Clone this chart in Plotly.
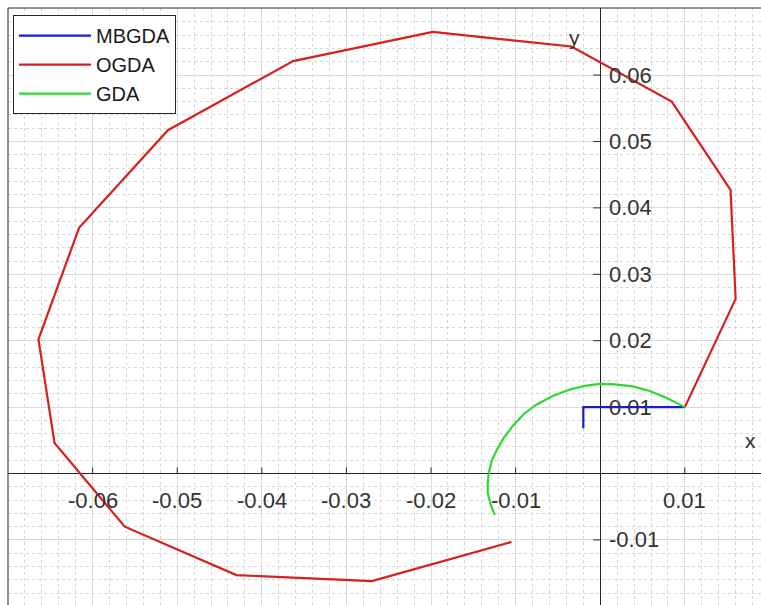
import plotly.graph_objects as go

# ---- data ----
mbgda_x = [0.0100, -0.0020, -0.0020]
mbgda_y = [0.0100, 0.0100, 0.0068]

ogda_x = [0.0100, 0.0160, 0.0154, 0.00845, -0.0034, -0.0198, -0.0363, -0.0511,
          -0.0616, -0.0664, -0.0645, -0.0562, -0.0430, -0.0270, -0.0105]
ogda_y = [0.0100, 0.0263, 0.0427, 0.0560, 0.0643, 0.0665, 0.0621, 0.0517,
          0.0370, 0.0202, 0.0046, -0.0080, -0.0153, -0.0162, -0.0103]

gda_x = [0.0100, 0.00786, 0.00585, 0.00384, 0.00171, -0.00006, -0.00183, -0.00361,
         -0.00561, -0.00751, -0.00904, -0.01034, -0.01141, -0.01223, -0.01283,
         -0.01318, -0.01330, -0.01330, -0.01294, -0.01247]
gda_y = [0.0100, 0.01138, 0.01243, 0.01311, 0.01341, 0.01349, 0.01319, 0.01266,
         0.01168, 0.01040, 0.00897, 0.00717, 0.00536, 0.00355, 0.00190,
         0.00009, -0.00142, -0.00292, -0.00473, -0.00623]

x_ticks = [-0.06, -0.05, -0.04, -0.03, -0.02, -0.01, 0.01]
x_tick_labels = ["-0.06", "-0.05", "-0.04", "-0.03", "-0.02", "-0.01", "0.01"]
y_ticks = [0.06, 0.05, 0.04, 0.03, 0.02, 0.01, -0.01]
y_tick_labels = ["0.06", "0.05", "0.04", "0.03", "0.02", "0.01", "-0.01"]

FONT = "Liberation Sans, Arial, sans-serif"
AX = "#262626"
TXT = "#333333"

fig = go.Figure()
fig.add_trace(go.Scatter(x=mbgda_x, y=mbgda_y, mode="lines", name="MBGDA",
                         line=dict(color="#1c1cc8", width=2.2)))
fig.add_trace(go.Scatter(x=ogda_x, y=ogda_y, mode="lines", name="OGDA",
                         line=dict(color="#d81e1e", width=2.2)))
fig.add_trace(go.Scatter(x=gda_x, y=gda_y, mode="lines", name="GDA",
                         line=dict(color="#2ed82e", width=2.2)))

shapes = []
for tv in x_ticks:
    shapes.append(dict(type="line", xref="x", yref="y", x0=tv, x1=tv,
                       ysizemode="pixel", yanchor=0, y0=0, y1=6,
                       line=dict(color=AX, width=1)))
for tv in y_ticks:
    shapes.append(dict(type="line", xref="x", yref="y", y0=tv, y1=tv,
                       xsizemode="pixel", xanchor=0, x0=-7, x1=0,
                       line=dict(color=AX, width=1)))
# frame (left and top edges)
shapes.append(dict(type="line", xref="paper", yref="paper", x0=0, x1=0, y0=0, y1=1,
                   line=dict(color=AX, width=1)))
shapes.append(dict(type="line", xref="paper", yref="paper", x0=0, x1=1, y0=1, y1=1,
                   line=dict(color=AX, width=1)))

annotations = []
for tv, tl in zip(x_ticks, x_tick_labels):
    annotations.append(dict(x=tv, y=0, xref="x", yref="y", text=tl, showarrow=False,
                            xanchor="center", yanchor="middle", yshift=-27,
                            font=dict(family=FONT, size=22, color=TXT)))
for tv, tl in zip(y_ticks, y_tick_labels):
    annotations.append(dict(x=0, y=tv, xref="x", yref="y", text=tl, showarrow=False,
                            xanchor="left", yanchor="middle", xshift=7,
                            font=dict(family=FONT, size=22, color=TXT)))
annotations.append(dict(x=0.0177, y=0.0049, xref="x", yref="y", text="x", showarrow=False,
                        xanchor="center", yanchor="middle",
                        font=dict(family=FONT, size=21, color=TXT)))
annotations.append(dict(x=-0.0031, y=0.0656, xref="x", yref="y", text="y", showarrow=False,
                        xanchor="center", yanchor="middle",
                        font=dict(family=FONT, size=21, color=TXT)))

grid_major = "#dadada"
minor = dict(dtick=0.002, showgrid=True, gridcolor="#d6d6d6", griddash="dot", gridwidth=1, ticks="")

fig.update_layout(
    width=761, height=605,
    margin=dict(l=8, r=0, t=8, b=0),
    paper_bgcolor="white", plot_bgcolor="white",
    showlegend=True,
    legend=dict(x=0.0066, y=0.988, xanchor="left", yanchor="top",
                bgcolor="white", bordercolor=AX, borderwidth=1,
                font=dict(family=FONT, size=20, color="#1a1a1a"),
                itemwidth=72, tracegroupgap=0),
    xaxis=dict(range=[-0.07, 0.019], tick0=0, dtick=0.01, showgrid=True,
               gridcolor=grid_major, gridwidth=1, zeroline=True, zerolinecolor=AX,
               zerolinewidth=1, showticklabels=False, ticks="", showline=False,
               minor=minor, fixedrange=True),
    yaxis=dict(range=[-0.0198, 0.0701], tick0=0, dtick=0.01, showgrid=True,
               gridcolor=grid_major, gridwidth=1, zeroline=True, zerolinecolor=AX,
               zerolinewidth=1, showticklabels=False, ticks="", showline=False,
               minor=minor, fixedrange=True),
    shapes=shapes,
    annotations=annotations,
)

fig.write_html("out.html")
